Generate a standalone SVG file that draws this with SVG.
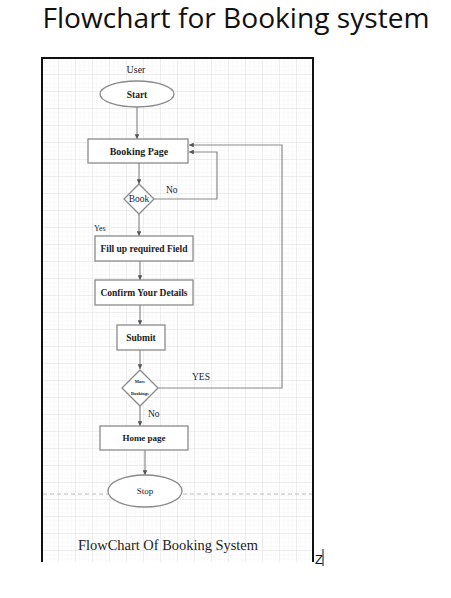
<svg xmlns="http://www.w3.org/2000/svg" width="451" height="598" viewBox="0 0 451 598">
<defs>
<pattern id="minor" width="4.25" height="4.25" patternUnits="userSpaceOnUse" x="42" y="58">
<path d="M4.25 0V4.25H0" fill="none" stroke="#ececec" stroke-width="0.6"/>
</pattern>
<pattern id="major" width="17" height="17" patternUnits="userSpaceOnUse" x="42" y="58">
<path d="M17 0V17H0" fill="none" stroke="#dcdcdc" stroke-width="0.8"/>
</pattern>
<marker id="ah" viewBox="0 0 6 6" refX="6" refY="3" markerWidth="4" markerHeight="4" orient="auto">
<path d="M0 0L6 3L0 6z" fill="#555"/>
</marker>
<style>
.node{fill:#fff;stroke:#8a8a8a;stroke-width:1.3}
.lbl{font-family:"Liberation Serif",serif;font-weight:bold;font-size:9.5px;fill:#222;text-anchor:middle}
.note{font-family:"Liberation Serif",serif;font-size:9.5px;fill:#223}
.conn{fill:none;stroke:#8a8a8a;stroke-width:1.2}
.arr{marker-end:url(#ah)}
</style>
</defs>
<rect width="451" height="598" fill="#fff"/>
<text x="236" y="28" font-family="Open Sans, Liberation Sans, sans-serif" font-size="27" text-anchor="middle" fill="#111" textLength="387" lengthAdjust="spacingAndGlyphs">Flowchart for Booking system</text>
<g id="frame">
<rect x="42" y="58" width="271" height="504" fill="url(#minor)"/>
<rect x="42" y="58" width="271" height="504" fill="url(#major)"/>
<line x1="43" y1="494" x2="313" y2="494" stroke="#bbb" stroke-width="1" stroke-dasharray="4,3"/>
<path d="M42 562V58H313V562" fill="none" stroke="#111" stroke-width="2"/>
</g>
<g id="connectors">
<line class="conn arr" x1="137" y1="107" x2="137" y2="139"/>
<line class="conn arr" x1="139" y1="163" x2="139" y2="184"/>
<path class="conn arr" d="M153 199H217V152H189"/>
<line class="conn arr" x1="139" y1="214" x2="139" y2="236"/>
<line class="conn arr" x1="140" y1="261" x2="140" y2="280"/>
<line class="conn arr" x1="140" y1="305" x2="140" y2="325"/>
<line class="conn arr" x1="140" y1="350" x2="140" y2="369"/>
<path class="conn arr" d="M158 388H282V145H189"/>
<line class="conn arr" x1="140" y1="406" x2="140" y2="426"/>
<line class="conn arr" x1="145" y1="450" x2="145" y2="475"/>
</g>
<text class="note" x="136" y="73" style="text-anchor:middle;font-size:10px">User</text>
<g id="start">
<ellipse class="node" cx="137" cy="94" rx="37" ry="13"/>
<text class="lbl" x="137" y="97.5">Start</text>
</g>
<g id="booking-page">
<rect class="node" x="88" y="139" width="100" height="24"/>
<text class="lbl" x="139" y="154.5" style="font-size:10px">Booking Page</text>
</g>
<g id="book">
<path class="node" d="M139 184L154 199L139 214L124 199Z"/>
<text class="note" x="139" y="202" style="text-anchor:middle">Book</text>
<text class="note" x="166" y="193">No</text>
<text class="note" x="94" y="231" style="font-size:8px">Yes</text>
</g>
<g id="fill-fields">
<rect class="node" x="95" y="236" width="98" height="25"/>
<text class="lbl" x="144" y="251.5">Fill up required Field</text>
</g>
<g id="confirm">
<rect class="node" x="95" y="280" width="98" height="25"/>
<text class="lbl" x="144" y="295.5">Confirm Your Details</text>
</g>
<g id="submit">
<rect class="node" x="117" y="325" width="48" height="25"/>
<text class="lbl" x="141" y="340.5">Submit</text>
</g>
<g id="more-bookings">
<path class="node" d="M140 370L158 388L140 406L122 388Z"/>
<text class="lbl" x="140" y="383" style="font-size:4.5px">More</text>
<text class="lbl" x="140" y="395" style="font-size:4.5px">Bookings</text>
<text class="note" x="192" y="380">YES</text>
<text class="note" x="148" y="417">No</text>
</g>
<g id="home-page">
<rect class="node" x="100" y="426" width="88" height="24"/>
<text class="lbl" x="144" y="441" style="font-size:9px">Home page</text>
</g>
<g id="stop">
<ellipse class="node" cx="145" cy="491" rx="37" ry="16"/>
<text class="lbl" x="145" y="494" style="font-weight:normal;font-size:9px">Stop</text>
</g>
<text x="78" y="550" font-family="Liberation Serif, serif" font-size="14" fill="#222" textLength="180" lengthAdjust="spacingAndGlyphs">FlowChart Of Booking System</text>
<text x="315" y="564" font-family="Liberation Sans, sans-serif" font-size="13" fill="#111">Z</text>
<line x1="323" y1="549" x2="323" y2="566" stroke="#111" stroke-width="1"/>
</svg>
